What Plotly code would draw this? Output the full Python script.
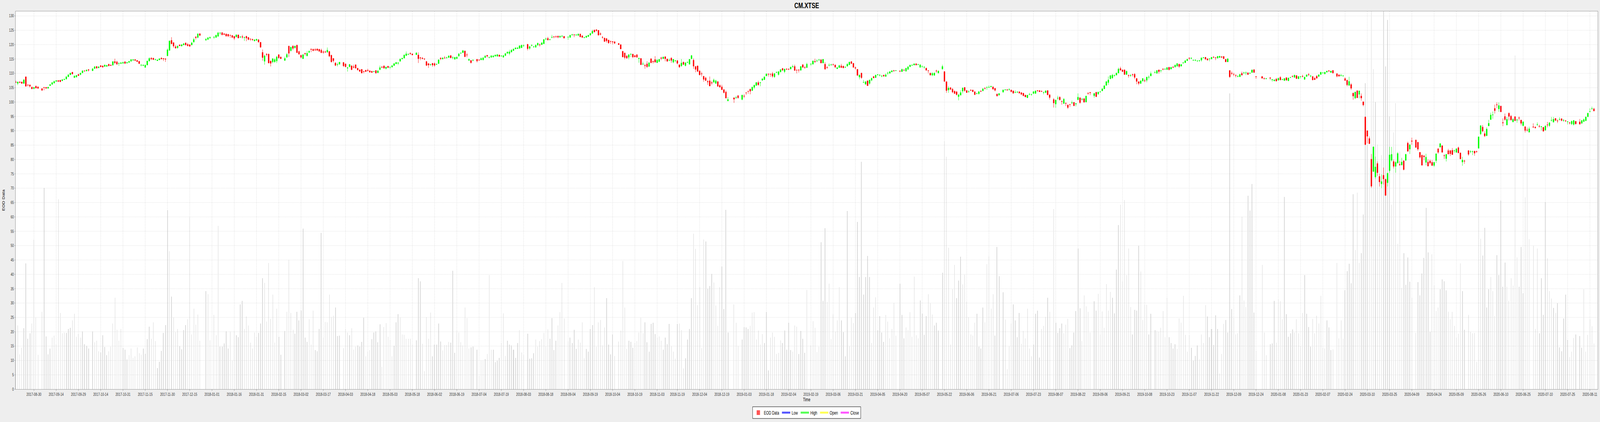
import pandas as pd
import plotly.graph_objects as go

TITLE = "CM.XTSE"
START_DATE = "2017-08-17"
END_DATE = "2020-08-13"

# TSX market holidays inside the period (gaps in the weekday time line)
HOLIDAYS = [
    "2017-09-04", "2017-10-09", "2017-12-25", "2017-12-26",
    "2018-01-01", "2018-02-19", "2018-03-30", "2018-05-21", "2018-07-02", "2018-08-06",
    "2018-09-03", "2018-10-08", "2018-12-25", "2018-12-26",
    "2019-01-01", "2019-02-18", "2019-04-19", "2019-05-20", "2019-07-01", "2019-08-05",
    "2019-09-02", "2019-10-14", "2019-12-25", "2019-12-26",
    "2020-01-01", "2020-02-17", "2020-04-10", "2020-05-18", "2020-07-01", "2020-08-03",
]

OPEN = [
    # 2017-08
    107.0, 106.5, 107.0, 107.0, 106.5, 108.8, 106.0, 106.0, 105.2, 104.7, 105.5,
    # 2017-09
    105.3, 104.7, 105.1, 105.1, 104.8, 105.7, 106.2, 106.6, 107.2, 107.5, 107.6, 107.4, 107.8, 108.0, 108.8, 109.5, 110.4, 108.5, 108.7, 109.6,
    # 2017-10
    109.6, 110.2, 110.9, 110.8, 111.3, 110.9, 111.7, 112.4, 111.9, 112.7, 112.6, 112.4, 112.4, 113.2, 112.9, 112.9, 114.1, 114.0, 113.4, 113.4, 113.5,
    # 2017-11
    114.0, 113.6, 113.8, 114.2, 114.6, 114.8, 114.5, 114.2, 112.8, 112.7, 112.1, 112.9, 114.3, 115.3, 115.3, 114.75, 114.4, 114.7, 115.3, 115.2, 115.1, 116.1,
    # 2017-12
    118.0, 121.5, 120.7, 119.3, 118.9, 119.9, 119.5, 119.9, 120.6, 120.1, 120.0, 119.9, 120.9, 122.7, 122.5, 123.8, 121.6, 121.8, 122.3,
    # 2018-01
    122.5, 122.5, 122.9, 124.0, 124.2, 123.8, 123.7, 123.6, 123.3, 123.2, 122.9, 122.7, 123.4, 122.6, 122.8, 122.4, 122.9, 122.5, 122.0, 121.9, 121.3, 121.5,
    # 2018-02
    121.7, 120.8, 117.3, 114.2, 116.7, 116.7, 114.3, 114.0, 114.0, 114.3, 116.5, 115.7, 114.5, 115.6, 119.5, 117.9, 119.5, 118.9, 119.8,
    # 2018-03
    117.6, 116.3, 115.1, 117.0, 116.1, 117.3, 118.5, 118.4, 118.3, 118.5, 118.4, 118.1, 117.5, 117.5, 117.4, 117.6, 116.3, 115.2, 113.6, 113.0, 113.2,
    # 2018-04
    113.8, 113.3, 111.8, 112.3, 112.6, 112.3, 113.0, 111.8, 111.2, 111.4, 110.7, 111.1, 111.1, 110.9, 110.7, 110.6, 111.0, 110.2, 111.3, 112.2, 112.6,
    # 2018-05
    111.7, 112.5, 112.1, 112.2, 112.7, 113.3, 113.5, 114.2, 115.0, 115.3, 116.2, 116.6, 117.0, 116.8, 116.5, 116.4, 115.5, 115.3, 115.1, 114.1, 113.4, 113.0,
    # 2018-06
    113.5, 113.4, 113.1, 113.4, 115.3, 115.0, 115.4, 115.4, 115.5, 116.2, 115.4, 114.9, 115.1, 116.0, 117.0, 117.2, 117.8, 116.5, 114.5, 114.5, 114.5,
    # 2018-07
    114.9, 114.7, 114.7, 114.7, 115.5, 116.3, 115.5, 115.6, 115.7, 116.0, 116.0, 116.4, 116.0, 115.6, 116.2, 117.0, 116.9, 117.4, 117.9, 118.5, 118.6,
    # 2018-08
    118.7, 118.9, 119.6, 120.1, 118.7, 119.7, 119.2, 119.1, 119.8, 120.0, 120.0, 120.3, 121.9, 122.2, 121.7, 122.5, 122.8, 122.8, 123.0, 122.6, 122.9, 122.9,
    # 2018-09
    122.6, 122.5, 123.4, 123.5, 123.3, 123.2, 123.7, 123.1, 122.4, 122.5, 122.8, 123.3, 123.9, 125.1, 125.2, 125.0, 123.8, 122.6, 122.3,
    # 2018-10
    122.1, 121.6, 121.2, 121.1, 121.0, 120.4, 120.0, 117.7, 117.1, 116.1, 115.6, 116.6, 116.7, 116.2, 116.5, 115.1, 115.2, 113.2, 112.8, 113.3, 112.4, 115.1,
    # 2018-11
    114.2, 114.8, 113.7, 114.1, 115.4, 115.1, 115.8, 115.0, 114.5, 115.3, 113.9, 114.4, 114.4, 113.0, 112.6, 113.9, 112.7, 113.8, 113.2, 115.1, 114.6, 112.4,
    # 2018-12
    112.6, 110.8, 109.9, 109.0, 108.4, 107.2, 107.4, 106.8, 106.9, 106.5, 107.1, 105.8, 105.3, 104.3, 103.5, 100.4, 101.5, 101.5, 102.2,
    # 2019-01
    100.9, 102.1, 103.3, 103.8, 104.5, 104.0, 105.1, 105.8, 106.8, 106.7, 107.6, 107.8, 109.1, 109.8, 109.8, 109.9, 108.8, 110.3, 109.6, 110.5, 111.7, 110.6,
    # 2019-02
    111.5, 111.5, 111.5, 112.2, 112.4, 111.2, 111.2, 111.1, 113.0, 112.1, 112.0, 113.2, 113.2, 114.2, 114.3, 114.6, 114.7, 113.6, 113.2,
    # 2019-03
    112.1, 112.8, 112.9, 113.1, 112.9, 111.6, 112.0, 112.6, 112.5, 112.1, 112.5, 113.0, 114.1, 113.5, 112.0, 111.4, 108.7, 110.1, 106.8, 106.2, 107.4,
    # 2019-04
    106.5, 107.6, 108.9, 108.5, 109.5, 109.3, 109.0, 109.4, 108.9, 110.0, 110.0, 110.5, 111.0, 110.9, 110.8, 110.6, 111.2, 110.8, 111.4, 112.3, 112.8,
    # 2019-05
    112.9, 113.3, 113.0, 112.1, 112.4, 112.1, 111.8, 111.0, 110.1, 109.4, 109.3, 110.9, 110.1, 111.5, 110.6, 107.1, 104.2, 105.0, 104.5, 103.8, 103.6, 101.9,
    # 2019-06
    102.4, 103.8, 105.1, 104.0, 103.5, 104.2, 104.2, 103.6, 102.9, 102.9, 103.8, 103.9, 104.8, 105.1, 105.1, 105.3, 105.3, 104.8, 102.8, 102.4,
    # 2019-07
    103.5, 104.2, 104.3, 104.3, 104.2, 103.9, 103.3, 103.4, 103.6, 103.3, 103.1, 102.4, 101.5, 102.6, 102.6, 103.0, 103.0, 104.0, 104.0, 103.8, 103.3, 103.3,
    # 2019-08
    104.0, 102.5, 100.9, 99.3, 101.3, 101.7, 100.3, 99.5, 99.6, 99.0, 99.2, 99.7, 99.9, 99.3, 100.8, 101.5, 100.9, 101.2, 100.0, 103.1, 103.4,
    # 2019-09
    102.2, 103.4, 102.8, 103.5, 103.9, 104.6, 105.8, 106.8, 108.1, 108.4, 109.2, 109.4, 110.1, 111.7, 111.2, 111.2, 109.6, 109.3, 109.2, 109.6,
    # 2019-10
    109.7, 108.2, 107.1, 106.5, 107.3, 107.5, 107.6, 108.6, 109.1, 110.2, 110.0, 111.2, 110.9, 111.5, 111.4, 111.3, 112.1, 111.5, 112.2, 112.2, 112.5, 113.2,
    # 2019-11
    112.5, 113.6, 113.7, 114.4, 115.3, 115.2, 114.5, 114.5, 114.3, 114.4, 114.6, 115.4, 115.6, 115.1, 115.0, 115.0, 115.7, 115.5, 115.3, 115.5, 115.8,
    # 2019-12
    115.9, 114.9, 114.0, 111.0, 110.1, 109.7, 109.3, 108.9, 108.8, 110.0, 110.1, 110.1, 110.2, 110.0, 110.3, 111.3, 108.9, 108.9, 108.3, 108.1,
    # 2020-01
    108.5, 107.7, 107.4, 108.0, 107.6, 108.6, 107.8, 107.5, 108.5, 107.4, 108.5, 109.0, 108.6, 109.2, 108.1, 108.8, 109.0, 107.9, 108.9, 109.6, 109.0, 108.9,
    # 2020-02
    108.3, 109.0, 108.9, 109.6, 110.1, 109.8, 110.4, 110.9, 110.3, 111.0, 109.9, 109.5, 109.2, 109.1, 108.2, 107.6, 105.8, 106.1, 103.1,
    # 2020-03
    101.4, 103.9, 102.7, 102.1, 100.1, 94.8, 90.0, 87.3, 80.1, 75.8, 73.9, 78.6, 74.1, 71.5, 74.5, 73.1, 71.9, 76.1, 79.7, 79.3, 77.6, 78.8,
    # 2020-04
    78.3, 78.1, 79.5, 79.7, 85.7, 83.6, 86.5, 86.8, 86.0, 82.5, 81.5, 81.3, 79.0, 79.1, 79.5, 79.0, 77.9, 79.6, 83.7, 84.3, 84.8,
    # 2020-05
    81.4, 80.3, 83.1, 83.1, 83.2, 83.0, 82.5, 84.1, 82.3, 79.1, 79.5, 83.1, 82.7, 82.7, 82.9, 82.8, 83.9, 88.9, 91.3, 89.0,
    # 2020-06
    88.3, 91.7, 93.9, 95.5, 97.8, 99.1, 97.6, 98.6, 92.9, 95.0, 92.0, 96.1, 95.1, 93.1, 94.9, 93.7, 94.5, 93.7, 91.8, 91.4, 90.3, 89.5,
    # 2020-07
    91.4, 91.3, 92.1, 91.6, 91.4, 91.2, 90.2, 92.1, 91.8, 93.6, 93.0, 94.3, 93.5, 93.9, 94.2, 93.6, 93.5, 93.1, 92.8, 92.4, 92.2, 93.3,
    # 2020-08
    93.1, 92.6, 93.2, 93.5, 94.9, 96.6, 97.6, 97.6,
]

HIGH = [
    # 2017-08
    107.5, 107.1, 107.2, 107.1, 108.1, 108.9, 106.2, 106.0, 105.4, 105.3, 105.8,
    # 2017-09
    105.4, 104.8, 105.3, 105.3, 105.3, 106.3, 106.9, 107.5, 107.6, 107.6, 107.7, 108.0, 108.1, 109.0, 109.7, 110.2, 110.5, 109.2, 109.4, 109.9,
    # 2017-10
    110.2, 111.0, 111.0, 111.3, 111.5, 111.8, 112.5, 112.5, 112.4, 112.8, 112.7, 113.1, 113.0, 113.3, 113.1, 114.2, 115.1, 114.4, 113.8, 114.0, 114.1,
    # 2017-11
    114.3, 114.0, 114.3, 115.0, 114.9, 114.9, 114.6, 114.3, 113.3, 113.1, 113.0, 114.4, 115.6, 115.6, 115.4, 115.1, 114.8, 115.2, 115.6, 115.3, 115.2, 118.7,
    # 2017-12
    121.4, 122.6, 120.8, 119.9, 119.7, 120.1, 120.1, 120.6, 120.7, 120.6, 120.1, 121.0, 122.4, 122.9, 124.0, 124.0, 122.3, 122.6, 122.8,
    # 2018-01
    123.0, 123.4, 124.5, 124.2, 124.3, 124.0, 123.9, 123.7, 123.5, 123.3, 123.0, 123.6, 123.5, 123.0, 123.4, 122.8, 123.1, 122.7, 122.1, 122.0, 121.8, 122.0,
    # 2018-02
    121.9, 121.0, 118.3, 116.5, 117.0, 116.9, 114.4, 115.3, 115.3, 116.1, 116.7, 115.8, 115.8, 117.1, 119.6, 119.3, 119.8, 119.6, 120.0,
    # 2018-03
    117.9, 116.5, 116.7, 117.1, 117.8, 118.0, 118.5, 118.6, 118.8, 118.7, 118.5, 118.6, 118.0, 117.9, 119.0, 117.8, 116.5, 115.3, 113.9, 113.7, 114.0,
    # 2018-04
    113.9, 113.4, 112.2, 113.3, 112.8, 113.0, 113.1, 111.9, 111.4, 111.5, 110.8, 111.2, 111.6, 111.0, 110.9, 110.8, 111.1, 111.0, 112.7, 112.6, 112.7,
    # 2018-05
    112.3, 112.6, 112.3, 112.8, 113.5, 114.0, 113.8, 115.1, 115.4, 116.5, 117.6, 116.9, 117.3, 116.9, 117.4, 117.3, 115.6, 115.7, 115.2, 114.3, 113.5, 113.3,
    # 2018-06
    113.6, 113.8, 113.4, 114.9, 115.6, 115.5, 116.0, 115.8, 116.2, 116.3, 116.0, 115.7, 115.8, 117.0, 117.3, 118.2, 117.9, 117.1, 115.2, 114.6, 114.9,
    # 2018-07
    115.0, 114.9, 115.6, 115.7, 116.4, 116.4, 115.8, 116.4, 116.3, 116.5, 116.8, 116.5, 116.3, 116.4, 117.0, 117.7, 118.2, 118.4, 118.6, 119.0, 119.1,
    # 2018-08
    119.8, 120.0, 120.1, 120.3, 119.6, 120.1, 119.5, 120.1, 120.7, 120.4, 120.9, 121.9, 122.5, 122.7, 122.0, 123.4, 122.9, 123.2, 123.1, 123.1, 123.3, 123.0,
    # 2018-09
    122.8, 123.4, 123.8, 123.6, 123.7, 123.9, 123.8, 123.2, 122.7, 123.1, 123.4, 124.1, 125.2, 125.2, 125.3, 125.1, 124.3, 123.0, 122.4,
    # 2018-10
    122.3, 121.7, 121.3, 121.2, 121.2, 120.6, 120.1, 117.8, 117.2, 116.2, 116.7, 117.0, 116.8, 116.4, 116.6, 115.4, 115.3, 114.0, 113.3, 114.2, 113.8, 115.2,
    # 2018-11
    114.4, 116.0, 115.0, 115.0, 115.8, 115.8, 115.9, 115.1, 115.2, 115.6, 115.0, 114.6, 114.7, 113.1, 115.0, 114.1, 113.8, 114.1, 115.0, 116.4, 115.2, 112.5,
    # 2018-12
    112.7, 111.2, 110.5, 109.1, 108.8, 107.7, 108.9, 107.4, 108.2, 107.8, 107.3, 106.2, 106.0, 104.6, 104.0, 101.7, 101.6, 102.1, 102.5,
    # 2019-01
    102.6, 102.7, 103.3, 103.9, 104.6, 105.4, 106.0, 107.0, 107.4, 107.0, 108.3, 108.9, 110.0, 109.9, 109.8, 110.5, 110.1, 110.6, 110.7, 111.4, 111.9, 111.6,
    # 2019-02
    111.8, 111.7, 112.3, 113.0, 113.0, 111.3, 111.5, 112.5, 113.2, 112.5, 113.7, 113.4, 114.5, 115.1, 114.9, 115.1, 115.0, 115.0, 113.9,
    # 2019-03
    112.5, 113.5, 113.4, 113.4, 113.1, 112.2, 113.0, 113.3, 112.7, 112.4, 113.5, 114.1, 114.2, 113.6, 112.4, 111.5, 109.6, 110.2, 107.7, 107.2, 107.5,
    # 2019-04
    107.8, 108.5, 109.0, 109.5, 109.7, 109.7, 109.4, 109.5, 110.0, 110.6, 110.7, 111.1, 111.2, 111.1, 111.1, 111.7, 111.3, 111.9, 112.4, 113.0, 113.1,
    # 2019-05
    113.5, 113.6, 113.3, 113.1, 112.6, 112.5, 112.0, 111.0, 110.2, 110.4, 110.3, 111.3, 111.0, 113.0, 110.8, 107.2, 105.5, 105.2, 104.9, 104.0, 103.7, 102.9,
    # 2019-06
    104.1, 105.1, 105.2, 104.2, 104.1, 104.4, 104.3, 103.7, 103.2, 103.9, 104.1, 104.9, 105.2, 105.3, 105.8, 105.7, 105.4, 104.9, 102.9, 103.1,
    # 2019-07
    104.4, 104.5, 104.5, 104.8, 104.3, 104.0, 104.1, 103.8, 103.7, 103.4, 103.2, 102.6, 102.5, 103.2, 102.8, 103.9, 104.0, 104.2, 104.1, 104.0, 103.5, 104.1,
    # 2019-08
    104.1, 102.8, 101.4, 100.8, 102.2, 102.0, 100.5, 101.4, 99.9, 99.1, 99.3, 100.5, 100.0, 99.6, 103.0, 101.6, 101.4, 101.3, 102.2, 103.4, 103.4,
    # 2019-09
    103.1, 103.6, 103.6, 103.8, 104.9, 105.8, 107.4, 108.9, 109.5, 109.8, 109.6, 110.3, 112.0, 112.3, 111.3, 111.4, 111.0, 109.6, 109.7, 109.9,
    # 2019-10
    110.1, 108.4, 107.2, 107.5, 108.4, 108.1, 108.8, 109.3, 110.6, 110.9, 111.1, 111.3, 111.1, 111.8, 111.7, 112.2, 112.3, 112.3, 112.5, 113.0, 113.6, 113.3,
    # 2019-11
    113.2, 113.9, 114.6, 115.1, 115.6, 115.6, 114.8, 114.9, 114.5, 114.6, 115.5, 115.7, 115.7, 115.2, 115.2, 115.7, 115.9, 115.6, 116.1, 116.1, 116.0,
    # 2019-12
    116.0, 115.0, 115.2, 111.1, 110.7, 110.2, 109.7, 109.3, 109.9, 110.6, 110.6, 110.7, 110.3, 110.3, 111.3, 111.4, 109.0, 109.0, 108.5, 108.4,
    # 2020-01
    108.5, 108.0, 107.9, 108.4, 108.5, 109.0, 108.1, 108.3, 108.6, 108.5, 108.7, 109.3, 109.5, 109.4, 109.0, 109.0, 109.5, 108.8, 109.6, 110.1, 109.5, 109.0,
    # 2020-02
    108.7, 109.4, 109.7, 110.5, 110.4, 110.5, 110.9, 111.2, 110.9, 111.2, 110.0, 109.6, 109.8, 109.3, 108.6, 107.8, 108.8, 106.6, 103.3,
    # 2020-03
    103.6, 104.2, 104.0, 103.0, 100.2, 95.0, 90.2, 88.0, 81.9, 84.5, 81.0, 79.3, 75.0, 74.8, 77.2, 73.3, 75.4, 84.4, 84.4, 80.0, 79.5, 82.6,
    # 2020-04
    79.5, 80.6, 79.8, 82.0, 86.2, 85.4, 87.6, 86.9, 86.1, 82.6, 81.7, 81.4, 82.0, 80.1, 80.0, 79.8, 79.2, 82.1, 84.0, 85.8, 84.9,
    # 2020-05
    81.8, 81.9, 83.7, 83.3, 84.0, 83.4, 84.0, 84.5, 82.4, 80.9, 79.9, 83.2, 83.2, 83.1, 83.0, 83.1, 88.0, 91.9, 92.0, 89.8,
    # 2020-06
    91.2, 93.8, 96.3, 96.7, 99.1, 99.9, 99.9, 98.7, 94.3, 96.0, 94.8, 96.4, 95.5, 94.4, 95.1, 94.2, 95.0, 93.9, 93.3, 91.6, 91.1, 91.4,
    # 2020-07
    92.6, 91.5, 92.9, 92.1, 91.6, 91.3, 91.8, 93.1, 93.0, 94.8, 94.8, 94.4, 94.0, 94.7, 94.3, 94.0, 93.8, 93.3, 93.1, 93.6, 93.7, 93.4,
    # 2020-08
    94.1, 93.7, 94.3, 95.0, 96.3, 97.8, 98.4, 98.0,
]

LOW = [
    # 2017-08
    106.7, 105.9, 106.7, 106.4, 106.3, 105.4, 105.4, 105.1, 104.5, 104.4, 104.7,
    # 2017-09
    104.5, 103.9, 104.1, 104.7, 104.7, 105.6, 105.9, 106.5, 107.1, 106.9, 106.9, 107.3, 107.7, 107.9, 108.7, 109.4, 109.6, 108.4, 108.6, 109.1,
    # 2017-10
    109.3, 110.0, 110.6, 110.7, 110.6, 110.8, 111.5, 111.7, 111.8, 112.1, 111.9, 112.3, 112.3, 112.5, 112.6, 112.6, 113.2, 113.0, 112.6, 113.2, 113.4,
    # 2017-11
    113.2, 113.4, 113.6, 114.1, 114.3, 114.3, 114.0, 113.2, 112.4, 112.5, 111.9, 112.8, 114.1, 114.6, 114.6, 114.5, 114.3, 114.6, 114.9, 114.3, 114.0, 116.0,
    # 2017-12
    117.9, 120.1, 118.9, 118.6, 118.6, 119.5, 119.4, 119.8, 119.7, 119.4, 119.3, 119.8, 120.7, 121.8, 122.2, 123.1, 121.3, 121.7, 122.0,
    # 2018-01
    122.0, 122.4, 122.8, 123.4, 123.3, 123.4, 122.8, 122.6, 122.4, 122.4, 121.6, 122.5, 122.2, 122.3, 122.1, 121.3, 121.2, 121.5, 121.3, 121.3, 121.1, 121.3,
    # 2018-02
    120.7, 118.9, 114.4, 113.0, 115.9, 113.5, 112.4, 113.5, 113.7, 113.6, 115.1, 115.0, 114.3, 115.4, 115.7, 117.6, 118.1, 118.6, 117.1,
    # 2018-03
    116.5, 115.2, 115.0, 116.2, 115.9, 117.1, 117.4, 117.7, 117.8, 117.9, 117.5, 117.0, 116.8, 117.1, 117.2, 115.6, 113.8, 113.8, 112.5, 112.4, 113.0,
    # 2018-04
    112.2, 112.1, 110.6, 112.1, 111.1, 111.7, 111.7, 111.0, 110.5, 110.0, 110.0, 110.5, 110.6, 110.3, 110.2, 110.4, 109.9, 110.1, 111.1, 111.8, 111.7,
    # 2018-05
    111.3, 111.8, 111.5, 112.0, 112.6, 113.2, 112.9, 114.1, 114.9, 115.2, 116.0, 116.3, 116.5, 116.3, 116.4, 113.6, 114.6, 114.9, 114.6, 112.5, 111.9, 112.6,
    # 2018-06
    112.3, 112.3, 112.9, 113.3, 114.6, 114.8, 115.2, 115.1, 115.4, 115.3, 114.9, 114.8, 115.0, 115.9, 116.8, 117.1, 115.6, 115.6, 114.4, 113.4, 114.2,
    # 2018-07
    113.8, 114.4, 114.6, 114.5, 115.3, 115.5, 115.2, 115.4, 115.5, 115.8, 115.7, 115.8, 115.8, 115.5, 116.0, 116.8, 116.3, 117.3, 117.8, 118.4, 118.5,
    # 2018-08
    118.6, 118.8, 119.2, 118.0, 118.2, 119.4, 118.9, 118.9, 119.7, 119.3, 119.9, 120.2, 121.6, 121.5, 121.5, 122.2, 122.2, 122.4, 122.2, 122.3, 122.5, 122.1,
    # 2018-09
    121.7, 122.4, 123.1, 122.6, 123.1, 123.1, 122.6, 122.4, 122.2, 122.4, 122.7, 123.2, 123.8, 124.3, 124.5, 123.2, 123.2, 122.1, 121.0,
    # 2018-10
    120.7, 120.3, 120.3, 120.1, 120.2, 119.9, 118.4, 115.6, 114.9, 115.1, 114.9, 115.7, 115.3, 115.6, 115.5, 113.7, 112.9, 112.9, 111.6, 111.9, 112.3, 113.5,
    # 2018-11
    113.4, 113.8, 113.6, 113.9, 114.6, 115.0, 114.2, 114.1, 114.2, 113.7, 113.5, 113.9, 113.1, 111.9, 112.3, 112.9, 112.4, 113.6, 113.0, 114.9, 111.6, 110.4,
    # 2018-12
    110.5, 109.3, 108.9, 107.1, 107.3, 106.0, 105.5, 106.0, 106.8, 106.4, 105.3, 105.1, 104.2, 103.0, 101.3, 100.3, 99.7, 101.1, 101.2,
    # 2019-01
    100.6, 101.4, 102.5, 102.9, 102.7, 103.9, 104.5, 105.6, 105.7, 105.5, 107.4, 107.7, 109.0, 108.9, 108.8, 108.5, 108.4, 110.1, 109.2, 110.3, 110.9, 110.1,
    # 2019-02
    111.2, 111.1, 111.4, 112.1, 110.9, 110.0, 110.3, 110.9, 112.0, 111.6, 111.9, 112.6, 113.1, 113.7, 113.9, 114.4, 113.5, 113.5, 111.2,
    # 2019-03
    111.6, 112.4, 112.7, 112.7, 111.8, 111.5, 111.9, 111.9, 111.8, 111.9, 112.4, 112.8, 113.3, 112.0, 111.3, 109.2, 107.9, 108.1, 106.8, 106.1, 105.6,
    # 2019-04
    106.0, 107.2, 108.3, 108.4, 109.2, 108.9, 108.6, 108.9, 108.8, 109.4, 109.9, 110.4, 110.5, 110.8, 110.4, 110.5, 110.9, 110.5, 111.2, 112.2, 112.6,
    # 2019-05
    112.8, 112.8, 112.9, 112.0, 111.9, 111.6, 110.9, 110.0, 109.3, 109.0, 109.2, 110.2, 110.0, 111.3, 107.1, 103.2, 103.2, 104.3, 103.1, 102.8, 102.3, 100.6,
    # 2019-06
    102.3, 103.0, 103.6, 103.2, 103.4, 103.8, 103.5, 102.4, 102.8, 102.6, 103.5, 103.8, 104.4, 104.3, 104.9, 105.2, 104.4, 103.7, 102.0, 102.3,
    # 2019-07
    103.2, 104.1, 103.9, 104.0, 103.4, 102.9, 103.1, 103.2, 103.0, 102.5, 102.0, 101.7, 101.4, 102.4, 102.2, 102.8, 102.9, 103.6, 103.5, 103.5, 102.7, 103.1,
    # 2019-08
    102.4, 100.9, 98.1, 98.0, 100.7, 100.5, 99.1, 99.3, 98.6, 97.6, 98.3, 99.3, 98.6, 98.5, 100.7, 99.4, 100.5, 99.7, 99.9, 102.5, 102.4,
    # 2019-09
    101.5, 101.7, 102.5, 103.3, 103.8, 104.5, 105.7, 106.0, 108.0, 108.1, 108.8, 109.3, 110.0, 111.0, 110.5, 109.5, 109.5, 108.5, 108.8, 108.9,
    # 2019-10
    108.0, 106.2, 105.9, 106.3, 107.2, 106.9, 106.9, 107.9, 109.0, 110.1, 109.9, 109.9, 110.3, 111.0, 111.3, 111.2, 111.0, 111.4, 111.8, 112.1, 112.4, 111.9,
    # 2019-11
    112.4, 113.4, 113.6, 114.3, 114.7, 114.9, 114.4, 114.2, 114.0, 114.0, 114.1, 115.2, 114.6, 114.5, 114.2, 114.9, 115.3, 114.6, 115.2, 115.4, 115.3,
    # 2019-12
    115.0, 113.9, 113.9, 108.4, 109.4, 109.0, 108.6, 108.6, 108.7, 109.3, 109.8, 109.4, 109.4, 109.8, 110.2, 110.2, 108.1, 108.2, 107.8, 107.9,
    # 2020-01
    107.7, 107.1, 107.2, 107.2, 107.5, 107.6, 107.6, 107.3, 107.5, 107.3, 108.4, 108.6, 108.5, 108.0, 108.0, 108.2, 108.6, 107.8, 108.8, 109.1, 108.6, 107.6,
    # 2020-02
    107.7, 108.2, 108.8, 109.5, 110.0, 109.7, 110.3, 110.5, 110.2, 110.0, 108.6, 108.9, 108.9, 108.8, 107.4, 105.5, 105.7, 104.2, 100.8,
    # 2020-03
    101.0, 101.4, 101.3, 100.5, 98.5, 85.0, 85.6, 85.4, 70.1, 75.7, 73.3, 74.3, 70.6, 70.0, 71.3, 67.3, 70.6, 75.4, 79.2, 76.9, 75.4, 78.5,
    # 2020-04
    77.8, 77.9, 76.2, 79.5, 82.6, 81.9, 85.1, 84.1, 83.0, 80.3, 77.9, 79.7, 78.0, 77.6, 78.3, 77.8, 77.4, 78.8, 82.0, 84.2, 82.4,
    # 2020-05
    80.2, 79.3, 81.8, 81.2, 81.6, 82.3, 82.3, 82.2, 80.1, 77.8, 78.5, 81.3, 82.2, 81.5, 81.3, 82.3, 83.8, 88.5, 89.5, 87.8,
    # 2020-06
    88.1, 91.6, 93.8, 94.2, 96.0, 97.9, 96.6, 96.5, 91.6, 93.5, 91.9, 93.6, 93.5, 92.9, 93.4, 92.8, 93.6, 91.9, 91.5, 89.4, 89.7, 89.4,
    # 2020-07
    90.9, 90.8, 91.7, 91.1, 90.1, 89.6, 90.1, 91.2, 91.3, 93.2, 92.9, 93.5, 92.7, 93.6, 93.3, 93.1, 93.1, 92.2, 92.2, 92.0, 91.8, 92.2,
    # 2020-08
    92.2, 92.5, 93.1, 93.4, 94.7, 96.5, 97.4, 96.8,
]

CLOSE = [
    # 2017-08
    106.8, 107.0, 106.8, 106.5, 107.7, 105.5, 105.9, 105.5, 104.6, 105.1, 104.9,
    # 2017-09
    104.8, 104.1, 105.0, 104.8, 105.2, 106.1, 106.8, 107.2, 107.5, 107.2, 107.1, 107.8, 108.0, 108.8, 109.5, 110.1, 109.8, 109.1, 109.3, 109.2,
    # 2017-10
    110.1, 110.9, 110.8, 111.2, 111.1, 111.6, 112.3, 111.8, 112.3, 112.3, 112.2, 112.9, 112.8, 112.6, 112.7, 114.1, 113.7, 113.2, 113.5, 113.7, 113.8,
    # 2017-11
    113.5, 113.8, 114.2, 114.8, 114.8, 114.5, 114.1, 113.4, 112.9, 112.9, 112.9, 114.3, 115.2, 115.0, 114.8, 114.85, 114.7, 115.1, 115.0, 115.0, 114.9, 118.2,
    # 2017-12
    121.3, 120.3, 119.5, 118.8, 119.5, 119.6, 120.0, 120.3, 119.9, 119.6, 119.4, 120.6, 121.8, 122.4, 123.7, 123.2, 121.9, 122.4, 122.6,
    # 2018-01
    122.6, 123.3, 124.1, 124.1, 123.4, 123.5, 123.0, 123.0, 123.2, 122.5, 122.2, 123.4, 122.3, 122.7, 122.6, 122.5, 122.3, 121.8, 121.9, 121.7, 121.7, 121.9,
    # 2018-02
    120.9, 119.1, 115.5, 116.1, 116.5, 113.6, 113.5, 115.1, 114.8, 115.7, 115.4, 115.1, 115.2, 116.6, 117.0, 119.1, 118.7, 119.5, 117.2,
    # 2018-03
    116.7, 115.6, 116.5, 116.8, 117.0, 117.7, 118.3, 117.9, 118.1, 118.0, 117.7, 117.2, 117.3, 117.4, 118.1, 116.0, 114.0, 114.4, 112.8, 113.1, 113.9,
    # 2018-04
    112.6, 112.3, 112.0, 113.1, 111.3, 112.1, 111.8, 111.2, 110.7, 110.1, 110.6, 110.6, 110.9, 110.4, 110.3, 110.7, 110.1, 110.9, 112.0, 112.1, 111.8,
    # 2018-05
    112.2, 112.0, 112.2, 112.7, 113.4, 113.8, 113.7, 115.0, 115.3, 116.4, 116.8, 116.7, 116.8, 116.4, 117.1, 115.1, 115.3, 115.1, 115.0, 112.8, 112.9, 113.1,
    # 2018-06
    112.9, 112.8, 113.2, 114.7, 115.1, 115.4, 115.3, 115.5, 116.1, 115.4, 115.5, 115.6, 115.7, 116.8, 117.1, 117.9, 115.8, 116.4, 114.9, 113.7, 114.6,
    # 2018-07
    114.3, 114.6, 115.2, 115.4, 116.0, 116.0, 115.6, 116.1, 116.1, 116.4, 116.5, 115.9, 116.1, 116.2, 116.9, 117.4, 117.5, 118.1, 118.5, 118.9, 118.9,
    # 2018-08
    119.6, 119.8, 119.7, 118.6, 119.3, 119.8, 119.3, 119.8, 120.5, 119.9, 120.6, 121.8, 122.0, 121.6, 121.8, 122.6, 122.7, 122.7, 122.6, 123.0, 123.0, 122.3,
    # 2018-09
    122.7, 123.3, 123.5, 123.4, 123.4, 123.7, 122.7, 122.5, 122.5, 123.0, 123.3, 123.9, 124.7, 124.4, 124.9, 123.3, 123.6, 122.5, 121.1,
    # 2018-10
    121.3, 120.6, 121.1, 120.9, 120.5, 120.0, 118.5, 115.7, 115.5, 115.3, 116.5, 116.7, 115.7, 115.7, 115.6, 115.3, 113.0, 113.3, 112.6, 112.3, 113.7, 113.7,
    # 2018-11
    114.0, 113.9, 114.6, 114.9, 115.2, 115.7, 115.1, 114.2, 114.6, 114.5, 114.9, 114.5, 113.5, 112.2, 113.6, 113.1, 113.7, 113.9, 114.9, 116.2, 112.5, 111.4,
    # 2018-12
    110.7, 109.5, 109.8, 107.9, 107.5, 107.0, 105.6, 106.6, 107.7, 107.4, 105.5, 105.2, 104.3, 103.3, 101.4, 100.9, 101.0, 101.6, 101.5,
    # 2019-01
    102.4, 102.0, 103.2, 103.7, 103.8, 105.2, 105.9, 106.8, 106.0, 106.8, 108.1, 108.8, 109.8, 109.7, 109.7, 109.0, 109.9, 110.4, 110.6, 111.3, 111.1, 111.5,
    # 2019-02
    111.4, 111.4, 112.2, 112.4, 111.0, 111.1, 111.1, 112.4, 112.1, 112.0, 113.2, 113.3, 114.3, 114.0, 114.4, 114.7, 113.6, 114.9, 111.5,
    # 2019-03
    112.0, 112.9, 113.0, 113.0, 112.2, 112.0, 112.7, 112.0, 111.9, 112.2, 113.2, 113.9, 113.4, 112.1, 111.8, 109.3, 109.4, 108.5, 106.9, 107.1, 105.7,
    # 2019-04
    107.7, 108.3, 108.4, 109.4, 109.6, 109.4, 109.1, 109.0, 109.5, 110.1, 110.6, 110.9, 110.9, 111.0, 110.7, 111.4, 111.1, 111.8, 112.3, 112.9, 112.9,
    # 2019-05
    113.3, 112.9, 113.1, 113.0, 112.5, 112.2, 111.1, 110.9, 109.4, 110.0, 110.1, 110.8, 110.8, 112.4, 107.2, 104.0, 104.9, 104.4, 103.5, 103.0, 102.6, 102.5,
    # 2019-06
    103.3, 104.9, 104.0, 103.3, 103.6, 104.1, 103.6, 102.6, 103.0, 103.6, 103.7, 104.6, 104.7, 105.2, 105.2, 105.5, 104.5, 104.1, 102.1, 103.0,
    # 2019-07
    104.2, 104.3, 104.2, 104.4, 103.6, 103.1, 103.4, 103.5, 103.1, 102.7, 102.2, 101.8, 102.4, 102.7, 102.7, 103.6, 103.9, 103.9, 103.6, 103.7, 103.4, 103.9,
    # 2019-08
    102.5, 101.6, 99.7, 100.7, 101.4, 100.8, 100.2, 101.0, 99.5, 98.1, 99.1, 99.8, 98.7, 99.5, 101.7, 99.8, 101.0, 100.0, 102.1, 103.0, 103.2,
    # 2019-09
    103.0, 101.9, 103.5, 103.6, 104.6, 105.7, 107.1, 107.7, 109.2, 109.4, 109.3, 110.1, 111.5, 111.1, 110.6, 109.6, 110.7, 109.2, 109.3, 109.5,
    # 2019-10
    108.6, 107.2, 106.5, 107.4, 108.2, 107.4, 108.7, 108.7, 109.9, 110.3, 111.0, 110.6, 111.0, 111.4, 111.5, 112.0, 111.3, 112.1, 112.1, 112.9, 113.4, 112.4,
    # 2019-11
    113.1, 113.7, 114.4, 114.9, 115.2, 115.3, 114.6, 114.6, 114.4, 114.5, 115.4, 115.5, 115.0, 114.6, 115.1, 115.6, 115.6, 115.4, 115.9, 116.0, 115.6,
    # 2019-12
    115.1, 114.0, 115.1, 108.8, 109.9, 109.6, 109.2, 109.0, 109.6, 109.4, 110.2, 110.2, 109.6, 110.1, 111.2, 110.3, 108.8, 108.3, 108.2, 108.2,
    # 2020-01
    108.3, 107.9, 107.7, 107.3, 108.3, 107.7, 107.9, 108.2, 107.6, 108.4, 108.6, 108.9, 109.4, 108.2, 108.9, 108.9, 108.9, 108.7, 109.5, 109.5, 109.1, 107.7,
    # 2020-02
    107.8, 108.3, 109.5, 110.4, 110.2, 110.4, 110.8, 110.8, 110.8, 110.1, 109.0, 109.0, 109.3, 109.2, 107.5, 106.0, 107.2, 104.8, 102.1,
    # 2020-03
    103.5, 101.5, 103.9, 101.4, 99.0, 85.2, 88.1, 85.5, 70.7, 84.4, 77.4, 75.4, 72.2, 72.3, 73.2, 67.5, 75.2, 81.6, 81.8, 77.6, 79.0, 82.1,
    # 2020-04
    78.1, 79.1, 76.5, 81.8, 82.9, 85.1, 86.3, 84.2, 83.6, 80.8, 78.0, 80.9, 80.8, 77.7, 78.8, 77.9, 79.0, 82.0, 82.5, 85.5, 82.5,
    # 2020-05
    81.3, 81.8, 81.9, 82.0, 81.7, 83.1, 83.7, 82.3, 80.2, 79.8, 79.4, 81.8, 82.8, 82.8, 82.2, 82.7, 87.9, 91.8, 89.9, 88.2,
    # 2020-06
    90.6, 92.6, 95.5, 95.6, 97.0, 99.0, 98.8, 96.6, 92.7, 93.9, 94.0, 95.0, 93.8, 94.0, 93.5, 93.8, 94.4, 92.6, 93.1, 90.1, 90.2, 90.7,
    # 2020-07
    91.3, 91.0, 92.2, 91.5, 91.5, 89.9, 91.7, 92.0, 92.8, 93.7, 94.0, 93.6, 93.4, 94.0, 93.6, 93.7, 93.4, 93.2, 92.7, 93.3, 93.6, 92.4,
    # 2020-08
    92.3, 93.6, 93.9, 94.8, 96.1, 96.7, 97.7, 96.9,
]

# volume, drawn on the same value axis as in the original chart
VOLUME = [
    # 2017-08
    20.0, 22.2, 12.1, 14.4, 21.2, 43.8, 17.6, 19.4, 22.9, 52.1, 25.1,
    # 2017-09
    12.0, 27.0, 70.1, 18.4, 12.1, 14.1, 17.9, 18.7, 15.6, 66.1, 26.6, 19.5, 19.7, 19.6, 21.0, 21.4, 23.9, 26.2, 18.3, 19.2,
    # 2017-10
    17.9, 20.1, 15.6, 15.1, 14.2, 20.1, 16.3, 16.9, 13.2, 12.8, 18.8, 14.7, 11.8, 13.2, 14.8, 22.8, 31.8, 20.7, 16.9, 20.9, 14.3,
    # 2017-11
    13.7, 10.3, 11.8, 14.2, 10.9, 11.5, 14.5, 12.5, 12.0, 14.2, 12.4, 17.4, 21.8, 17.6, 23.3, 16.7, 7.3, 9.5, 13.3, 19.6, 22.3, 62.3,
    # 2017-12
    48.1, 32.2, 25.0, 19.9, 21.0, 15.0, 13.9, 20.5, 22.3, 24.4, 59.9, 19.1, 28.1, 22.5, 26.0, 16.9, 34.1, 33.1, 17.0,
    # 2018-01
    25.8, 18.8, 56.9, 14.8, 14.9, 15.9, 20.1, 14.1, 20.1, 10.0, 20.1, 18.8, 18.1, 29.5, 30.7, 20.9, 25.3, 22.2, 16.2, 14.1, 19.7, 18.3,
    # 2018-02
    19.6, 22.9, 38.7, 37.0, 23.6, 44.0, 24.5, 33.0, 16.2, 28.1, 18.2, 12.0, 20.3, 27.0, 45.0, 26.5, 20.7, 19.3, 26.9,
    # 2018-03
    24.0, 27.3, 55.9, 18.0, 16.5, 24.3, 15.5, 27.4, 13.6, 13.2, 20.9, 54.5, 17.9, 23.4, 23.3, 32.9, 25.2, 25.6, 28.4, 18.5, 18.7,
    # 2018-04
    14.3, 21.0, 19.8, 18.8, 21.2, 13.8, 14.9, 15.3, 14.8, 16.4, 24.9, 11.4, 13.1, 13.6, 17.4, 19.7, 20.1, 16.3, 22.6, 7.8, 21.7,
    # 2018-05
    23.0, 18.3, 17.1, 11.4, 15.1, 23.3, 26.1, 25.0, 19.1, 18.9, 17.6, 17.6, 17.6, 15.5, 17.0, 38.7, 37.5, 15.8, 6.2, 25.1, 17.5, 26.7,
    # 2018-06
    11.5, 15.5, 15.5, 22.8, 16.6, 13.5, 15.4, 15.4, 16.4, 16.2, 41.2, 12.7, 20.4, 19.8, 16.3, 15.2, 28.5, 24.8, 14.2, 14.5, 14.9,
    # 2018-07
    13.8, 4.5, 9.9, 9.9, 10.5, 12.2, 39.7, 13.8, 13.8, 9.4, 10.0, 10.9, 16.0, 26.4, 11.6, 16.9, 15.5, 15.2, 13.7, 10.9, 16.0,
    # 2018-08
    20.5, 12.8, 12.0, 19.3, 10.6, 10.8, 12.5, 17.3, 14.8, 16.7, 17.4, 19.6, 15.1, 20.8, 17.6, 24.8, 13.6, 16.9, 22.2, 26.8, 37.0, 24.6,
    # 2018-09
    16.7, 17.9, 16.1, 20.7, 14.0, 17.3, 16.2, 23.3, 10.7, 14.0, 13.1, 21.0, 22.3, 35.5, 14.8, 23.3, 24.1, 15.2, 21.5,
    # 2018-10
    31.7, 15.5, 12.1, 19.1, 11.6, 16.6, 20.4, 44.7, 28.5, 14.0, 16.9, 16.5, 14.4, 16.2, 16.7, 19.8, 24.9, 19.4, 23.3, 16.3, 13.0, 22.7,
    # 2018-11
    23.1, 19.2, 17.9, 18.4, 16.9, 13.7, 17.9, 15.7, 22.7, 15.0, 13.1, 10.6, 22.7, 22.9, 20.5, 7.2, 10.7, 17.3, 21.0, 31.7, 54.1, 48.8,
    # 2018-12
    29.3, 35.5, 14.3, 52.1, 51.5, 35.0, 35.9, 40.1, 37.1, 29.1, 22.1, 35.5, 42.7, 27.9, 62.4, 19.8, 29.5, 23.2, 15.1,
    # 2019-01
    17.3, 21.6, 21.5, 21.0, 22.1, 26.7, 26.8, 17.3, 20.4, 15.5, 19.2, 16.1, 26.8, 6.5, 17.9, 19.8, 18.3, 12.2, 12.7, 17.0, 16.1, 20.4,
    # 2019-02
    13.8, 23.1, 13.6, 13.1, 22.2, 21.8, 12.3, 20.3, 17.6, 12.7, 34.6, 15.3, 23.7, 21.4, 12.9, 14.8, 51.2, 30.7, 56.1,
    # 2019-03
    30.3, 36.7, 17.4, 26.1, 20.0, 23.9, 35.5, 24.0, 19.9, 11.4, 62.1, 15.0, 24.9, 23.0, 26.5, 58.2, 39.0, 79.2, 32.9, 39.0, 46.4,
    # 2019-04
    39.1, 16.0, 28.4, 32.0, 20.6, 25.5, 19.8, 16.4, 25.9, 23.6, 17.7, 21.0, 30.1, 18.7, 36.8, 25.8, 17.7, 21.5, 20.5, 26.8, 18.2,
    # 2019-05
    39.2, 18.8, 17.7, 30.9, 26.2, 18.9, 25.5, 33.1, 29.9, 26.0, 22.2, 23.2, 20.4, 40.6, 86.4, 81.0, 49.2, 15.5, 34.8, 43.3, 31.7, 37.8,
    # 2019-06
    46.1, 36.5, 39.9, 30.5, 25.0, 19.1, 18.6, 23.2, 26.2, 14.8, 14.1, 28.4, 23.3, 43.6, 46.3, 28.0, 33.1, 18.6, 49.6, 39.3,
    # 2019-07
    33.7, 24.2, 7.0, 15.0, 22.9, 29.6, 23.9, 18.1, 26.5, 15.8, 20.3, 17.7, 28.1, 14.2, 11.4, 15.5, 26.2, 27.4, 11.0, 20.9, 22.1, 25.2,
    # 2019-08
    31.9, 27.0, 62.7, 23.2, 19.6, 21.2, 22.8, 19.5, 22.4, 24.5, 14.3, 15.2, 19.8, 27.2, 49.0, 28.2, 16.7, 32.7, 28.8, 27.0, 19.7,
    # 2019-09
    30.6, 27.4, 33.2, 19.1, 27.1, 21.4, 36.6, 27.4, 33.9, 31.8, 26.4, 41.7, 57.2, 64.2, 37.5, 65.9, 39.7, 49.0, 28.6, 19.0,
    # 2019-10
    27.6, 27.3, 49.9, 40.9, 24.1, 29.4, 29.4, 19.1, 26.2, 20.5, 20.3, 20.0, 21.4, 27.2, 18.1, 31.7, 18.1, 16.1, 14.1, 15.7, 14.0, 24.7,
    # 2019-11
    23.2, 32.5, 18.9, 13.0, 18.6, 14.4, 10.0, 11.6, 15.3, 10.3, 19.1, 16.1, 29.3, 25.3, 18.1, 20.9, 15.4, 25.7, 20.9, 5.4, 12.2,
    # 2019-12
    22.7, 24.1, 19.7, 103.0, 27.9, 24.8, 19.1, 19.4, 32.6, 60.0, 30.9, 28.6, 67.4, 62.2, 71.5, 26.7, 13.4, 43.3, 19.8, 11.8,
    # 2020-01
    15.7, 15.9, 30.7, 16.2, 31.1, 30.6, 24.3, 66.9, 26.1, 18.2, 19.4, 20.8, 19.7, 24.4, 19.5, 15.1, 26.5, 39.8, 26.3, 21.7, 14.9, 24.5,
    # 2020-02
    19.4, 25.6, 22.9, 32.5, 14.3, 14.2, 23.9, 21.5, 13.6, 13.9, 44.0, 17.7, 23.9, 17.5, 34.4, 41.1, 43.7, 36.9, 67.9,
    # 2020-03
    48.5, 68.5, 44.0, 47.3, 60.8, 106.6, 85.0, 77.2, 140.0, 111.5, 100.0, 85.2, 78.3, 81.5, 140.0, 112.4, 128.6, 95.0, 64.3, 89.4, 99.6, 50.6,
    # 2020-04
    82.8, 35.3, 47.3, 36.3, 45.8, 37.4, 31.8, 19.6, 37.3, 32.6, 40.3, 45.7, 63.1, 47.6, 20.0, 47.0, 36.1, 27.2, 28.4, 34.8, 38.2,
    # 2020-05
    37.5, 34.4, 27.0, 24.4, 27.0, 22.0, 18.0, 19.3, 43.8, 34.1, 20.7, 25.8, 20.0, 19.4, 19.6, 9.5, 65.3, 52.4, 46.5, 56.2,
    # 2020-06
    28.5, 34.8, 39.0, 34.1, 25.4, 46.7, 39.7, 65.7, 35.7, 44.1, 35.6, 30.8, 38.7, 36.1, 116.2, 45.8, 35.7, 49.6, 33.4, 66.8, 86.8, 52.2,
    # 2020-07
    50.0, 21.0, 49.0, 19.4, 38.7, 25.8, 65.2, 45.6, 34.2, 31.6, 28.3, 26.6, 29.9, 14.6, 13.2, 24.7, 32.9, 17.2, 11.2, 13.1, 17.8, 19.1,
    # 2020-08
    18.5, 14.4, 34.9, 13.1, 18.9, 24.3, 21.9, 15.9,
]

TICK_LABELS = [
    "2017-08-30", "2017-09-14", "2017-09-29", "2017-10-14", "2017-10-31", "2017-11-15", "2017-11-30", "2017-12-15",
    "2018-01-01", "2018-01-16", "2018-01-31", "2018-02-15", "2018-03-02", "2018-03-17", "2018-04-03", "2018-04-18",
    "2018-05-03", "2018-05-18", "2018-06-02", "2018-06-19", "2018-07-04", "2018-07-19", "2018-08-03", "2018-08-18",
    "2018-09-04", "2018-09-19", "2018-10-04", "2018-10-19", "2018-11-03", "2018-11-19", "2018-12-04", "2018-12-19",
    "2019-01-03", "2019-01-18", "2019-02-04", "2019-02-19", "2019-03-06", "2019-03-21", "2019-04-05", "2019-04-20",
    "2019-05-07", "2019-05-22", "2019-06-06", "2019-06-21", "2019-07-06", "2019-07-23", "2019-08-07", "2019-08-22",
    "2019-09-06", "2019-09-21", "2019-10-08", "2019-10-23", "2019-11-07", "2019-11-22", "2019-12-09", "2019-12-24",
    "2020-01-08", "2020-01-23", "2020-02-07", "2020-02-24", "2020-03-10", "2020-03-25", "2020-04-09", "2020-04-24",
    "2020-05-09", "2020-05-26", "2020-06-10", "2020-06-25", "2020-07-10", "2020-07-25", "2020-08-11",
]

LEGEND_ITEMS = [("EOD Data", "#ff5555"), ("Low", "#5555ff"), ("High", "#55ff55"),
                ("Open", "#ffff55"), ("Close", "#ff55ff")]

# ---------------------------------------------------------------------------
FONT = "Liberation Sans, Arial, sans-serif"
HALF_DAY = pd.Timedelta(hours=12)
W, H = 5760, 1080

dates = [d for d in pd.bdate_range(START_DATE, END_DATE) if d.strftime("%Y-%m-%d") not in HOLIDAYS]
n = len(dates)
assert n == len(OPEN) == len(HIGH) == len(LOW) == len(CLOSE) == len(VOLUME), (
    n, len(OPEN), len(HIGH), len(LOW), len(CLOSE), len(VOLUME))
xs = [d + HALF_DAY for d in dates]


def tick_position(label):
    d = pd.Timestamp(label)
    if d.weekday() >= 5:  # weekend ticks sit where the following Monday starts
        d = d + pd.Timedelta(days=7 - d.weekday())
    return d + HALF_DAY


tickvals = [tick_position(t) for t in TICK_LABELS]

fig = go.Figure()
fig.add_trace(go.Bar(
    x=xs, y=VOLUME, width=0.28 * 86400000,
    marker=dict(color="#d9d9d9", line=dict(width=0)),
    showlegend=False, hoverinfo="skip",
))
fig.add_trace(go.Candlestick(
    x=xs, open=OPEN, high=HIGH, low=LOW, close=CLOSE,
    increasing=dict(line=dict(color="#00ff00", width=1), fillcolor="#00ff00"),
    decreasing=dict(line=dict(color="#ff0000", width=1), fillcolor="#ff0000"),
    showlegend=False, name="EOD Data",
))
for name, color in LEGEND_ITEMS:
    if name == "EOD Data":
        fig.add_trace(go.Scatter(x=[None], y=[None], mode="markers", name=name,
                                 marker=dict(symbol="square", size=10, color=color)))
    else:
        fig.add_trace(go.Scatter(x=[None], y=[None], mode="lines", name=name,
                                 line=dict(color=color, width=1.5)))

axis_common = dict(
    showgrid=True, gridcolor="#d4d4d4", gridwidth=1, griddash="2px,2px",
    showline=True, linecolor="#8c8c8c", linewidth=1, mirror=True,
    ticks="outside", ticklen=3, tickcolor="#8c8c8c",
    tickfont=dict(family=FONT, size=10.5, color="#333333"),
    zeroline=False,
)

fig.update_layout(
    width=W, height=H, autosize=False,
    paper_bgcolor="#eeeeee", plot_bgcolor="#ffffff",
    margin=dict(l=56, r=8, t=29, b=68, pad=0),
    title=dict(text="<b>" + TITLE + "</b>", x=0.5, xanchor="center", xref="paper",
               y=1 - 14 / H, yref="container", yanchor="middle",
               font=dict(family=FONT, size=20, color="#000000")),
    showlegend=True,
    legend=dict(orientation="h", x=0.5, xanchor="center", y=-0.046, yanchor="top",
                bgcolor="#ffffff", bordercolor="#000000", borderwidth=1,
                font=dict(family=FONT, size=12, color="#000000"),
                itemwidth=30, itemsizing="constant", tracegroupgap=0),
    bargap=0, barmode="overlay",
    xaxis=dict(
        type="date",
        rangebreaks=[dict(bounds=["sat", "mon"])],
        range=[pd.Timestamp(START_DATE) + pd.Timedelta(hours=10),
               pd.Timestamp("2020-08-17") + pd.Timedelta(hours=9, minutes=30)],
        tickmode="array", tickvals=tickvals, ticktext=TICK_LABELS,
        rangeslider=dict(visible=False),
        title=dict(text="Time", standoff=5, font=dict(family=FONT, size=12, color="#000000")),
        **axis_common,
    ),
    yaxis=dict(
        range=[0, 131.6], tick0=0, dtick=5,
        title=dict(text="EOD Data", standoff=12, font=dict(family=FONT, size=12, color="#000000")),
        **axis_common,
    ),
)

# The figure is laid out in 5760x1080 picture pixels. Stretch that layout so it
# exactly covers whatever CSS viewport the browser window really provides.
FIT_SCRIPT = """
var W = %d, H = %d;
var de = document.documentElement, bd = document.body;
de.style.margin = '0'; de.style.padding = '0'; de.style.overflow = 'hidden';
bd.style.margin = '0'; bd.style.padding = '0'; bd.style.overflow = 'hidden';
bd.style.background = '#eeeeee';
var gd = document.getElementById('{plot_id}');
var box = gd.parentElement;
var wrap = document.createElement('div');
wrap.style.cssText = 'position:fixed;left:0;top:0;width:100vw;height:100vh;overflow:hidden;background:#eeeeee;';
box.parentNode.insertBefore(wrap, box);
wrap.appendChild(box);
function fit() {
  var sx = window.innerWidth / W, sy = window.innerHeight / H;
  box.style.width = W + 'px';
  box.style.height = H + 'px';
  box.style.transformOrigin = '0 0';
  box.style.transform = 'scale(' + sx + ',' + sy + ')';
}
fit();
window.addEventListener('resize', fit);
""" % (W, H)

fig.write_html("out.html", config={"displayModeBar": False, "responsive": False},
               post_script=FIT_SCRIPT)
